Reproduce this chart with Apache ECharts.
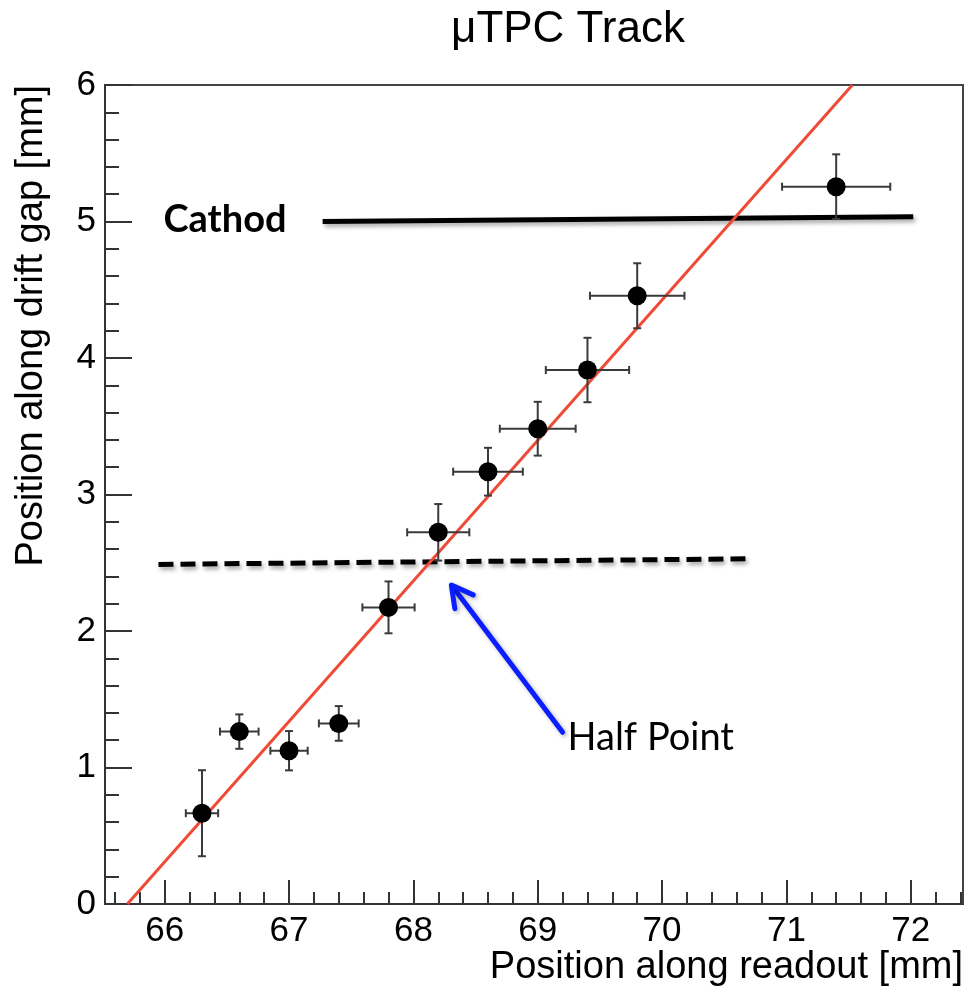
<!DOCTYPE html>
<html><head><meta charset="utf-8">
<script src="https://cdn.jsdelivr.net/npm/echarts@6/dist/echarts.min.js"></script>
<style>html,body{margin:0;padding:0;background:#fff}#c{width:967px;height:993px}</style>
</head><body><div id="c"></div>
<script>
// ---- data ----
const xValues = [66.3, 66.6, 67.0, 67.4, 67.8, 68.2, 68.6, 69.0, 69.4, 69.8, 71.4];
const yValues = [0.665, 1.263, 1.123, 1.323, 2.173, 2.723, 3.167, 3.482, 3.912, 4.456, 5.255];
const xErrors = [0.13, 0.155, 0.15, 0.16, 0.21, 0.25, 0.28, 0.305, 0.335, 0.38, 0.435];
const yErrors = [0.315, 0.126, 0.144, 0.127, 0.19, 0.207, 0.175, 0.197, 0.236, 0.238, 0.237];
const fitX = [65.70, 71.53];
const fitY = [0, 6];
const cathodX = [67.27, 72.02];
const cathodY = [5.0, 5.035];
const halfX = [65.95, 70.71];
const halfY = [2.488, 2.529];
const arrowX = [69.20, 68.305];
const arrowY = [1.258, 2.337];
const xTickLabels = [66, 67, 68, 69, 70, 71, 72];
const xMinorTicks = [65.6, 65.8, 66.2, 66.4, 66.6, 66.8, 67.2, 67.4, 67.6, 67.8, 68.2, 68.4, 68.6, 68.8,
  69.2, 69.4, 69.6, 69.8, 70.2, 70.4, 70.6, 70.8, 71.2, 71.4, 71.6, 71.8, 72.2, 72.4];
const yTickLabels = [0, 1, 2, 3, 4, 5, 6];
const cathodLabel = {x: 65.99, y: 5.01, text: 'Cathod'};
const halfLabel = {x: 69.24, y: 1.216, text: 'Half Point'};
const titleText = 'μTPC Track';
const xTitle = 'Position along readout [mm]';
const yTitle = 'Position along drift gap [mm]';

const X_MIN = 65.52, X_MAX = 72.42;
const FONT = '"Liberation Sans", Arial, Helvetica, sans-serif';
const NOTE_FONT = 'Lato, "Open Sans", sans-serif';

const chart = echarts.init(document.getElementById('c'), null, {renderer: 'canvas'});

const pts = xValues.map((x, i) => [x, yValues[i]]);
const errData = xValues.map((x, i) => [x, yValues[i], xErrors[i], yErrors[i]]);

const option = {
  animation: false,
  backgroundColor: '#fff',
  grid: {left: 105, top: 85, right: 4, bottom: 89, show: true, borderColor: '#444', borderWidth: 2,
         containLabel: false, outerBoundsMode: 'none'},
  graphic: [
    {type: 'text', x: 568, y: 30,
     style: {text: titleText, fontSize: 44, fontFamily: FONT, fill: '#000', align: 'center', verticalAlign: 'middle'}, z: 10},
    {type: 'text', x: 963, y: 968,
     style: {text: xTitle, fontSize: 38, fontFamily: FONT, fill: '#000', align: 'right', verticalAlign: 'middle'}},
    {type: 'text', x: 32, y: 85, rotation: Math.PI / 2,
     style: {text: yTitle, fontSize: 38, fontFamily: FONT, fill: '#000', align: 'right', verticalAlign: 'middle'}}
  ],
  xAxis: [
    {type: 'value', min: X_MIN, max: X_MAX, position: 'bottom',
     axisLine: {show: true, onZero: false, lineStyle: {color: '#333', width: 2}},
     axisTick: {show: true, inside: true, length: 24, customValues: xTickLabels, lineStyle: {color: '#333', width: 2}},
     axisLabel: {show: true, customValues: xTickLabels, fontSize: 35, fontFamily: FONT, color: '#000', margin: 10},
     splitLine: {show: false}},
    {type: 'value', min: X_MIN, max: X_MAX, position: 'bottom',
     axisLine: {show: false, onZero: false},
     axisTick: {show: true, inside: true, length: 12, customValues: xMinorTicks, lineStyle: {color: '#333', width: 2}},
     axisLabel: {show: false},
     splitLine: {show: false}}
  ],
  yAxis: {
    type: 'value', min: 0, max: 6, interval: 1,
    axisLine: {show: true, onZero: false, lineStyle: {color: '#333', width: 2}},
    axisTick: {show: true, inside: true, length: 27, lineStyle: {color: '#333', width: 2}},
    minorTick: {show: true, splitNumber: 5, length: 14, lineStyle: {color: '#333', width: 2}},
    axisLabel: {fontSize: 35, fontFamily: FONT, color: '#000', margin: 9},
    splitLine: {show: false}
  },
  series: [
    {type: 'line', name: 'fit', data: fitX.map((x, i) => [x, fitY[i]]), symbol: 'none',
     lineStyle: {color: '#ee4a35', width: 3}, z: 3, silent: true},
    {type: 'line', name: 'cathod', data: cathodX.map((x, i) => [x, cathodY[i]]), symbol: 'none',
     lineStyle: {color: '#000', width: 5, shadowColor: 'rgba(0,0,0,0.35)', shadowBlur: 4, shadowOffsetX: 2, shadowOffsetY: 3}, z: 2},
    {type: 'line', name: 'half', data: halfX.map((x, i) => [x, halfY[i]]), symbol: 'none',
     lineStyle: {color: '#000', width: 5, type: [15, 7], shadowColor: 'rgba(0,0,0,0.35)', shadowBlur: 4, shadowOffsetX: 2, shadowOffsetY: 3}, z: 2},
    {type: 'custom', name: 'errors', data: errData, z: 4,
     renderItem: function (params, api) {
       const x = api.value(0), y = api.value(1), ex = api.value(2), ey = api.value(3);
       const l = api.coord([x - ex, y]), r = api.coord([x + ex, y]);
       const t = api.coord([x, y + ey]), b = api.coord([x, y - ey]);
       const c = 4;
       const st = {stroke: '#3a3a3a', lineWidth: 2};
       const ln = (x1, y1, x2, y2) => ({type: 'line', shape: {x1, y1, x2, y2}, style: st});
       return {type: 'group', children: [
         ln(l[0], l[1], r[0], r[1]), ln(t[0], t[1], b[0], b[1]),
         ln(l[0], l[1] - c, l[0], l[1] + c), ln(r[0], r[1] - c, r[0], r[1] + c),
         ln(t[0] - c, t[1], t[0] + c, t[1]), ln(b[0] - c, b[1], b[0] + c, b[1])
       ]};
     }},
    {type: 'scatter', name: 'points', data: pts, symbol: 'circle', symbolSize: 19,
     itemStyle: {color: '#000', opacity: 1}, z: 5},
    {type: 'custom', name: 'arrow', data: [[arrowX[0], arrowY[0], arrowX[1], arrowY[1]]], z: 6,
     renderItem: function (params, api) {
       const a = api.coord([api.value(0), api.value(1)]);
       const b = api.coord([api.value(2), api.value(3)]);
       const ang = Math.atan2(b[1] - a[1], b[0] - a[0]);
       const h = 24, sp = 0.5;
       const p1 = [b[0] - h * Math.cos(ang - sp), b[1] - h * Math.sin(ang - sp)];
       const p2 = [b[0] - h * Math.cos(ang + sp), b[1] - h * Math.sin(ang + sp)];
       const st = {stroke: '#0a1eff', lineWidth: 5, lineCap: 'round', lineJoin: 'round',
                   shadowColor: 'rgba(0,0,0,0.3)', shadowBlur: 4, shadowOffsetX: 2, shadowOffsetY: 2, fill: null};
       return {type: 'group', children: [
         {type: 'line', shape: {x1: a[0], y1: a[1], x2: b[0] - 2 * Math.cos(ang), y2: b[1] - 2 * Math.sin(ang)}, style: st},
         {type: 'polyline', shape: {points: [p1, b, p2]}, style: st}
       ]};
     }},
    {type: 'custom', name: 'notes', data: [[cathodLabel.x, cathodLabel.y, 0], [halfLabel.x, halfLabel.y, 1]], z: 7,
     renderItem: function (params, api) {
       const p = api.coord([api.value(0), api.value(1)]);
       const isC = api.value(2) === 0;
       return {type: 'text', x: p[0], y: p[1], style: {
         text: isC ? cathodLabel.text : halfLabel.text,
         fontSize: isC ? 38 : 38, fontWeight: isC ? 'bold' : 'normal',
         fontFamily: NOTE_FONT, fill: '#000', align: 'left', verticalAlign: 'middle'}};
     }}
  ]
};
chart.setOption(option);
</script>
</body></html>
